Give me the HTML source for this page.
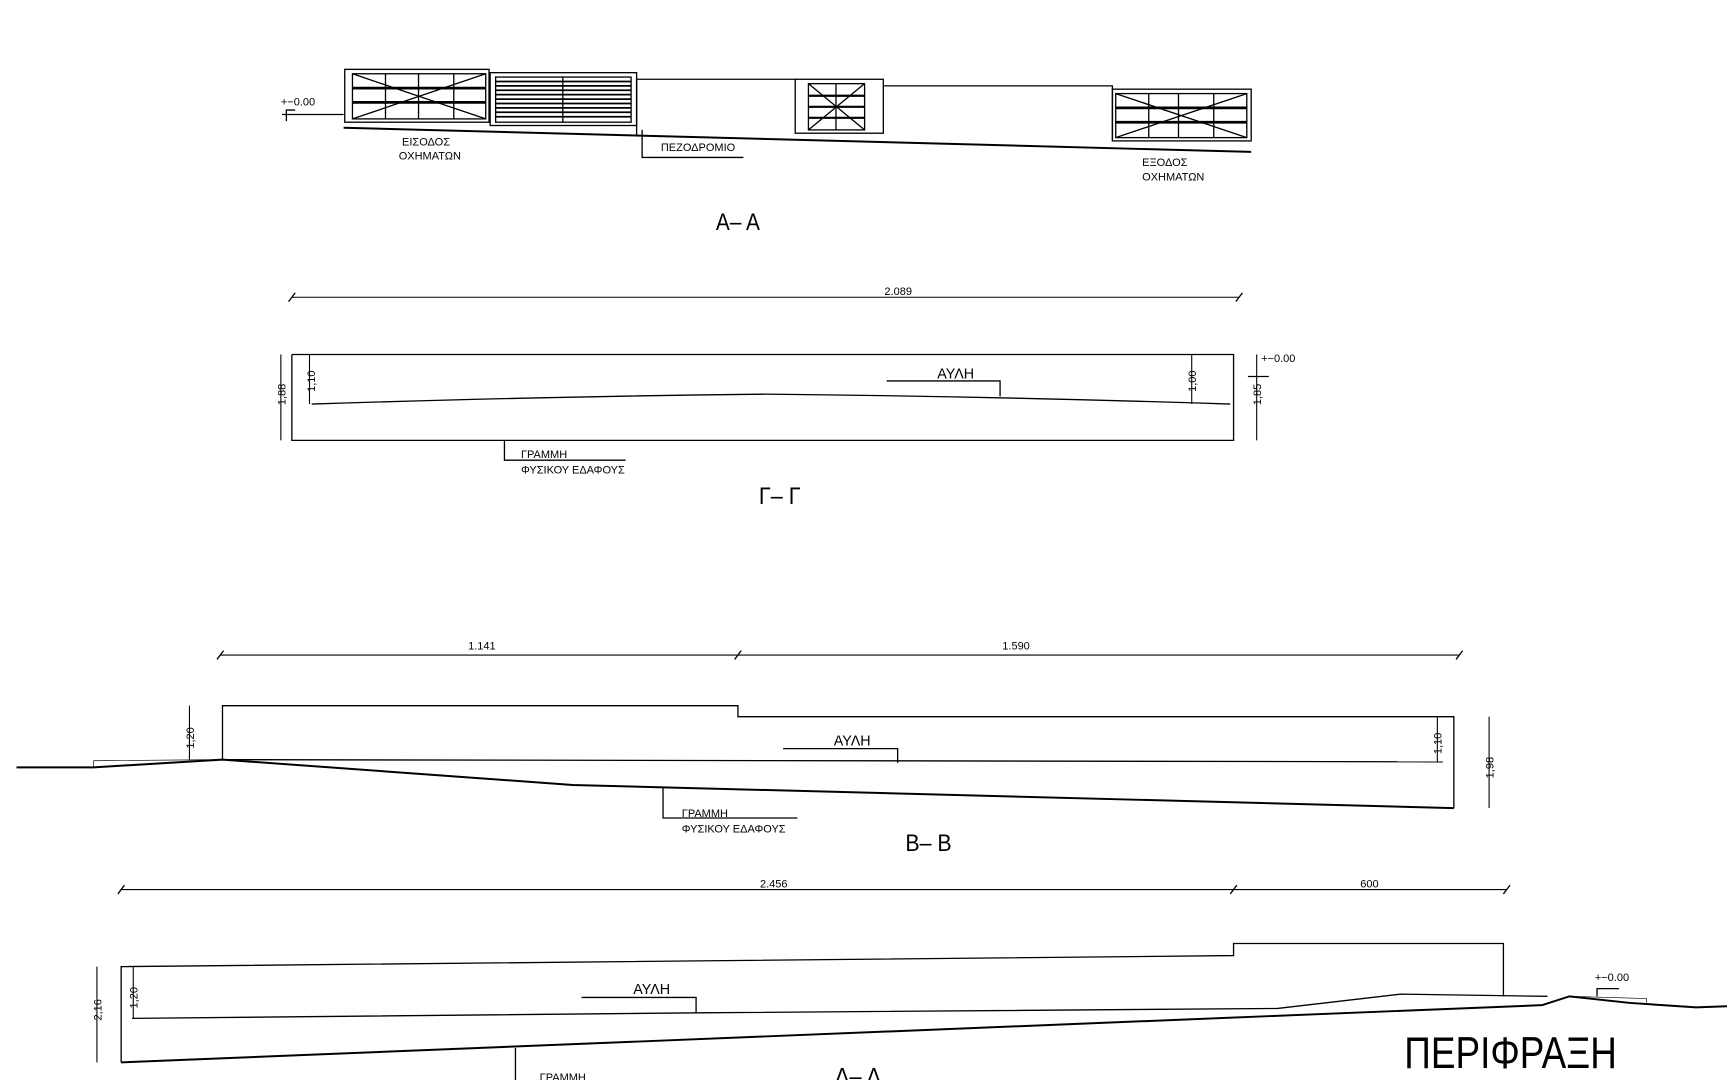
<!DOCTYPE html>
<html><head><meta charset="utf-8"><style>
html,body{margin:0;padding:0;background:#fff;}
svg{display:block;}
text{font-family:"Liberation Sans Narrow","Liberation Sans","DejaVu Sans Condensed",sans-serif;fill:#000;}
.s{font-size:10px;}
</style></head><body>
<svg width="1727" height="1080" viewBox="0 0 1568 981" preserveAspectRatio="none" xmlns="http://www.w3.org/2000/svg">
<g fill="none" stroke="#000" stroke-width="1.2">
<line x1="312" y1="116" x2="1136" y2="138" stroke-width="1.8"/>
<rect x="313" y="63" width="131" height="48"/>
<rect x="320" y="67" width="121" height="41"/>
<line x1="320" y1="67" x2="441" y2="108"/><line x1="441" y1="67" x2="320" y2="108"/>
<line x1="350" y1="67" x2="350" y2="108"/><line x1="380" y1="67" x2="380" y2="108"/><line x1="412" y1="67" x2="412" y2="108"/>
<line x1="320" y1="80" x2="441" y2="80" stroke-width="2.5"/><line x1="320" y1="93" x2="441" y2="93" stroke-width="2.5"/>
<rect x="445" y="66" width="133" height="48"/>
<rect x="450" y="70" width="123" height="41"/>
<line x1="511" y1="70" x2="511" y2="111"/>
<g stroke-width="1.6">
<line x1="450" y1="74" x2="573" y2="74"/><line x1="450" y1="78" x2="573" y2="78"/><line x1="450" y1="82" x2="573" y2="82"/><line x1="450" y1="86" x2="573" y2="86"/><line x1="450" y1="90" x2="573" y2="90"/><line x1="450" y1="94" x2="573" y2="94"/><line x1="450" y1="98" x2="573" y2="98"/><line x1="450" y1="102" x2="573" y2="102"/><line x1="450" y1="106" x2="573" y2="106"/></g>
<polyline points="578,72 722,72"/>
<line x1="578" y1="72" x2="578" y2="124"/>
<rect x="722" y="72" width="80" height="49"/>
<rect x="734" y="76" width="51" height="42"/>
<line x1="734" y1="76" x2="785" y2="118"/><line x1="785" y1="76" x2="734" y2="118"/>
<line x1="759" y1="76" x2="759" y2="118"/>
<line x1="734" y1="87" x2="785" y2="87" stroke-width="2"/><line x1="734" y1="97" x2="785" y2="97" stroke-width="2"/><line x1="734" y1="107" x2="785" y2="107" stroke-width="2"/>
<polyline points="802,78 1010,78 1010,128"/>
<rect x="1010" y="81" width="126" height="47"/>
<rect x="1013" y="85" width="119" height="40"/>
<line x1="1013" y1="85" x2="1132" y2="125"/><line x1="1132" y1="85" x2="1013" y2="125"/>
<line x1="1043" y1="85" x2="1043" y2="125"/><line x1="1070" y1="85" x2="1070" y2="125"/><line x1="1102" y1="85" x2="1102" y2="125"/>
<line x1="1013" y1="98" x2="1132" y2="98" stroke-width="2.5"/><line x1="1013" y1="111" x2="1132" y2="111" stroke-width="2.5"/>
<line x1="256" y1="104" x2="312" y2="104"/>
<polyline points="260,110 260,100 268,100"/>
<polyline points="583,118 583,143 675,143"/>
<line x1="265" y1="270" x2="1125" y2="270" stroke-width="1"/>
<line x1="262" y1="274" x2="268" y2="266"/><line x1="1122" y1="274" x2="1128" y2="266"/>
<polyline points="265,322 1120,322 1120,400 265,400 265,322"/>
<line x1="255" y1="322" x2="255" y2="400" stroke-width="1"/>
<line x1="281" y1="322" x2="281" y2="367" stroke-width="1"/>
<path d="M283 367 Q500 360 695 358 Q900 360 1117 367"/>
<polyline points="805,346 908,346 908,360"/>
<line x1="1082" y1="322" x2="1082" y2="367" stroke-width="1"/>
<line x1="1141" y1="322" x2="1141" y2="400" stroke-width="1"/>
<line x1="1133" y1="342" x2="1152" y2="342"/>
<polyline points="458,400 458,418 568,418"/>
<line x1="200" y1="595" x2="1325" y2="595" stroke-width="1"/>
<line x1="197" y1="599" x2="203" y2="591"/><line x1="667" y1="599" x2="673" y2="591"/><line x1="1322" y1="599" x2="1328" y2="591"/>
<polyline points="202,690 202,641 670,641 670,651 1320,651 1320,734"/>
<polyline points="15,697 85,697 202,690 520,713 1320,734" stroke-width="1.8"/>
<polyline points="202,690 1310,692"/>
<polyline points="85,697 85,691 202,690" stroke-width="0.6"/>
<line x1="172" y1="641" x2="172" y2="690" stroke-width="1"/>
<polyline points="711,680 815,680 815,693"/>
<line x1="1305" y1="651" x2="1305" y2="692" stroke-width="1"/>
<line x1="1352" y1="651" x2="1352" y2="734" stroke-width="1"/>
<polyline points="602,716 602,743 724,743"/>
<line x1="110" y1="808" x2="1368" y2="808" stroke-width="1"/>
<line x1="107" y1="812" x2="113" y2="804"/><line x1="1117" y1="812" x2="1123" y2="804"/><line x1="1365" y1="812" x2="1371" y2="804"/>
<polyline points="110,965 110,878 1120,868 1120,857 1365,857 1365,905"/>
<polyline points="120,925 635,920 1160,916 1272,903 1405,905"/>
<polyline points="110,965 1400,913 1425,905 1480,911 1540,915 1568,914" stroke-width="1.8"/>
<polyline points="1425,905 1495,907 1495,911" stroke-width="0.6"/>
<line x1="88" y1="878" x2="88" y2="965" stroke-width="1"/>
<line x1="121" y1="878" x2="121" y2="925" stroke-width="1"/>
<polyline points="528,906 632,906 632,920"/>
<polyline points="1450,905 1450,898 1470,898"/>
<line x1="468" y1="952" x2="468" y2="981"/>
</g>
<g>
<text x="255" y="96" class="s">+−0.00</text>
<text x="365" y="132" class="s">ΕΙΣΟΔΟΣ</text>
<text x="362" y="145" class="s">ΟΧΗΜΑΤΩΝ</text>
<text x="600" y="137" class="s">ΠΕΖΟΔΡΟΜΙΟ</text>
<text x="1037" y="151" class="s">ΕΞΟΔΟΣ</text>
<text x="1037" y="164" class="s">ΟΧΗΜΑΤΩΝ</text>
<text x="650" y="209" font-size="22" textLength="40" lengthAdjust="spacingAndGlyphs">Α– Α</text>
<text x="803" y="268" class="s">2.089</text>
<text x="851" y="344" font-size="13">ΑΥΛΗ</text>
<text x="1145" y="329" class="s">+−0.00</text>
<text x="473" y="416" class="s">ΓΡΑΜΜΗ</text>
<text x="473" y="430" class="s">ΦΥΣΙΚΟΥ ΕΔΑΦΟΥΣ</text>
<text x="689" y="458" font-size="22" textLength="38" lengthAdjust="spacingAndGlyphs">Γ– Γ</text>
<text transform="translate(259,368) rotate(-90)" class="s">1,88</text>
<text transform="translate(286,356) rotate(-90)" class="s">1,10</text>
<text transform="translate(1086,356) rotate(-90)" class="s">1,00</text>
<text transform="translate(1145,368) rotate(-90)" class="s">1,85</text>
<text x="425" y="590" class="s">1.141</text>
<text x="910" y="590" class="s">1.590</text>
<text x="757" y="677" font-size="13">ΑΥΛΗ</text>
<text transform="translate(176,680) rotate(-90)" class="s">1,20</text>
<text transform="translate(1309,685) rotate(-90)" class="s">1,10</text>
<text transform="translate(1356,707) rotate(-90)" class="s">1,98</text>
<text x="619" y="742" class="s">ΓΡΑΜΜΗ</text>
<text x="619" y="756" class="s">ΦΥΣΙΚΟΥ ΕΔΑΦΟΥΣ</text>
<text x="822" y="773" font-size="22" textLength="42" lengthAdjust="spacingAndGlyphs">Β– Β</text>
<text x="690" y="806" class="s">2.456</text>
<text x="1235" y="806" class="s">600</text>
<text x="575" y="903" font-size="13">ΑΥΛΗ</text>
<text transform="translate(92,927) rotate(-90)" class="s">2,16</text>
<text transform="translate(125,916) rotate(-90)" class="s">1,20</text>
<text x="1448" y="891" class="s">+−0.00</text>
<text x="1275" y="970" font-size="40" font-weight="200" textLength="193" lengthAdjust="spacingAndGlyphs">ΠΕΡΙΦΡΑΞΗ</text>
<text x="758" y="985" font-size="22" textLength="42" lengthAdjust="spacingAndGlyphs">Δ– Δ</text>
<text x="490" y="982" class="s">ΓΡΑΜΜΗ</text>
</g>
</svg>
</body></html>
